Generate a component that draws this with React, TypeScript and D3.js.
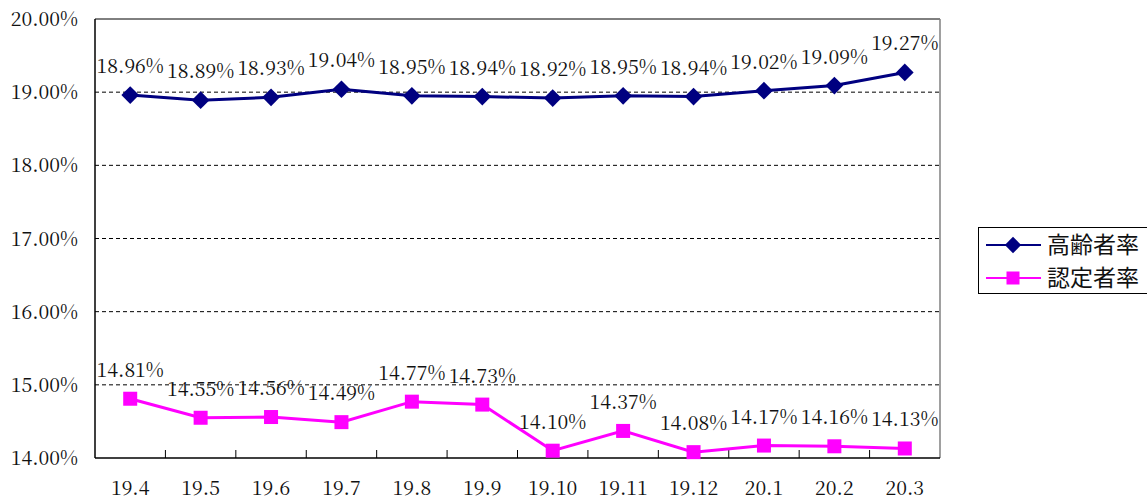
import React, { useEffect } from "react";
import * as d3 from "d3";

const categories = ["19.4", "19.5", "19.6", "19.7", "19.8", "19.9", "19.10", "19.11", "19.12", "20.1", "20.2", "20.3"];
const elderlyRate = [18.96, 18.89, 18.93, 19.04, 18.95, 18.94, 18.92, 18.95, 18.94, 19.02, 19.09, 19.27];
const certifiedRate = [14.81, 14.55, 14.56, 14.49, 14.77, 14.73, 14.10, 14.37, 14.08, 14.17, 14.16, 14.13];
const yTicks = [14, 15, 16, 17, 18, 19, 20];
const seriesNames = ["高齢者率", "認定者率"];

const W = 1147;
const H = 502;
const left = 95;
const right = 940;
const top = 19;
const bottom = 458;
const NAVY = "#000080";
const MAGENTA = "#FF00FF";

export default function App() {
  useEffect(() => {
    document.body.style.margin = "0";
    document.body.style.overflow = "hidden";
  }, []);

  const x = d3.scaleBand<string>().domain(categories).range([left, right]).padding(0);
  const y = d3.scaleLinear().domain([14, 20]).range([bottom, top]);
  const cx = (c: string) => (x(c) ?? 0) + x.bandwidth() / 2;

  const line = d3
    .line<number>()
    .x((_, i) => cx(categories[i]))
    .y((d) => y(d));

  const diamond = d3.symbol().type(d3.symbolDiamond2).size(200)();
  const diamondLegend = d3.symbol().type(d3.symbolDiamond2).size(170)();

  const boundaries = d3.range(1, categories.length).map((i) => left + i * x.step());
  const numStyle = { fontFamily: `"Noto Serif CJK JP"`, fontSize: "19.5px" } as React.CSSProperties;
  const jpStyle = { fontFamily: `"Noto Sans CJK JP"`, fontSize: "23px" } as React.CSSProperties;

  return (
    <svg width={W} height={H} style={{ display: "block", background: "#fff" }}>
      <rect x={0} y={0} width={W} height={H} fill="#fff" />
      {yTicks.slice(1, -1).map((t) => (
        <line key={t} x1={left} x2={right} y1={y(t)} y2={y(t)} stroke="#000" strokeWidth={1} strokeDasharray="4,3" />
      ))}
      <line x1={left} x2={right} y1={top} y2={top} stroke="#000" strokeWidth={1} />
      <line x1={right} x2={right} y1={top} y2={bottom} stroke="#808080" strokeWidth={1.5} />
      <line x1={left} x2={left} y1={top} y2={bottom} stroke="#000" strokeWidth={1.5} />
      <line x1={left} x2={right} y1={bottom} y2={bottom} stroke="#000" strokeWidth={1.5} />
      {boundaries.map((b, i) => (
        <line key={i} x1={b} x2={b} y1={bottom} y2={bottom - 8} stroke="#000" strokeWidth={1} />
      ))}
      {yTicks.map((t) => (
        <text key={t} x={78} y={y(t) + 7} textAnchor="end" style={numStyle} fill="#111">
          {`${t.toFixed(2)}%`}
        </text>
      ))}
      {categories.map((c) => (
        <text key={c} x={cx(c)} y={bottom + 37} textAnchor="middle" style={numStyle} fill="#111">
          {c}
        </text>
      ))}
      <path d={line(elderlyRate) ?? ""} fill="none" stroke={NAVY} strokeWidth={3} />
      {elderlyRate.map((v, i) => (
        <path key={i} d={diamond ?? ""} transform={`translate(${cx(categories[i])},${y(v)})`} fill={NAVY} />
      ))}
      <path d={line(certifiedRate) ?? ""} fill="none" stroke={MAGENTA} strokeWidth={3} />
      {certifiedRate.map((v, i) => (
        <rect key={i} x={cx(categories[i]) - 7} y={y(v) - 7} width={14} height={14} fill={MAGENTA} />
      ))}
      {elderlyRate.map((v, i) => (
        <text key={i} x={cx(categories[i])} y={y(v) - 22} textAnchor="middle" style={numStyle} fill="#111">
          {`${v.toFixed(2)}%`}
        </text>
      ))}
      {certifiedRate.map((v, i) => (
        <text key={i} x={cx(categories[i])} y={y(v) - 22} textAnchor="middle" style={numStyle} fill="#111">
          {`${v.toFixed(2)}%`}
        </text>
      ))}
      <rect x={978.5} y={227.5} width={180} height={66} fill="#fff" stroke="#000" strokeWidth={1} />
      <line x1={986} x2={1041} y1={245} y2={245} stroke={NAVY} strokeWidth={2} />
      <path d={diamondLegend ?? ""} transform="translate(1013,245)" fill={NAVY} />
      <text x={1047} y={253} style={jpStyle} fill="#111">{seriesNames[0]}</text>
      <line x1={986} x2={1041} y1={278} y2={278} stroke={MAGENTA} strokeWidth={2} />
      <rect x={1006.5} y={271.5} width={13} height={13} fill={MAGENTA} />
      <text x={1047} y={286} style={jpStyle} fill="#111">{seriesNames[1]}</text>
    </svg>
  );
}
